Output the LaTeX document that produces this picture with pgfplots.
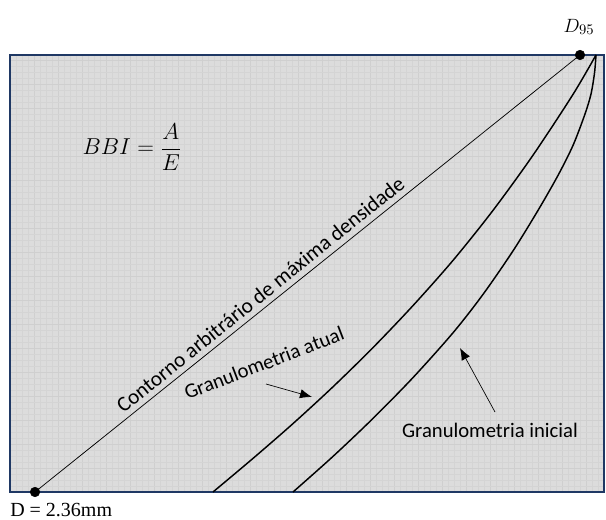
\documentclass[border=0pt]{standalone}
\usepackage{pgfplots}
\pgfplotsset{compat=1.18}
\usetikzlibrary{arrows.meta}
\usepackage{fontspec}
\setmainfont{Carlito}
\newfontfamily\timesfont{Liberation Serif}
\definecolor{bgfill}{HTML}{DCDCDC}
\definecolor{gridmin}{HTML}{D4D4D4}
\definecolor{gridmaj}{HTML}{CFCFCF}
\definecolor{frame}{HTML}{1F3864}

% grading curves (x: sieve size, y: cumulative passing), drawing units
\pgfplotstableread{
x y
203 0
243 33.6
283 68.4
323 105.2
363 144.4
403 186.4
443 231.6
483 281.6
523 336.8
563 397.6
586 437
}\atual
\pgfplotstableread{
x y
283 0
323 35.6
363 73.6
403 114.4
443 159.2
473 197.6
503 241.1
528 281.6
548 316.6
563 346.6
575 378
581 398
584.5 419
586 437
}\inicial
\pgfplotstableread{
x y
25 0
570 437
}\contorno

\begin{document}
\begin{tikzpicture}[x=0.75pt,y=0.75pt]
\useasboundingbox (0,0) rectangle (606,520);
\begin{axis}[
  at={(10,28)}, anchor=south west,
  x=0.75pt, y=0.75pt,
  xmin=0, xmax=594, ymin=0, ymax=437,
  xtick distance=24, ytick distance=24,
  minor tick num=3,
  xticklabels={}, yticklabels={},
  major tick length=0pt, minor tick length=0pt,
  grid=both,
  minor grid style={color=gridmin, line width=0.3pt},
  major grid style={color=gridmaj, line width=0.45pt},
  axis background/.style={fill=bgfill},
  axis line style={frame, line width=1.3pt},
  clip=false,
]
\addplot[black, line width=0.55pt] table {\contorno};
\addplot[black, line width=1.1pt, smooth, tension=0.5] table {\atual};
\addplot[black, line width=1.1pt, smooth, tension=0.5] table {\inicial};
\addplot[only marks, mark=*, mark size=3.6pt, black] table {\contorno};

% arrows pointing to the curves
\draw[-{Latex[length=9pt,width=7pt]}, line width=0.5pt] (axis cs:256,108) -- (axis cs:302,95);
\draw[-{Latex[length=9pt,width=7pt]}, line width=0.5pt] (axis cs:485,80) -- (axis cs:450,144);

\node[rotate=38.8, anchor=base, font=\fontsize{16}{19}\selectfont] at (axis cs:255,192)
  {Contorno arbitrário de máxima densidade};
\node[rotate=21, font=\fontsize{15.5}{18}\selectfont] at (axis cs:254,129)
  {Granulometria atual};
\node[font=\fontsize{15.5}{18}\selectfont] at (axis cs:480,62)
  {Granulometria inicial};
\node[font=\fontsize{18.4}{22}\selectfont] at (axis cs:122,345)
  {$BBI = \displaystyle\frac{A}{E}$};
\node[font=\fontsize{15}{18}\selectfont] at (axis cs:569,465) {$D_{95}$};
\node[anchor=west, inner sep=0pt, font=\fontsize{15}{18}\selectfont\timesfont] at (axis cs:0,-18)
  {D = 2.36mm};
\end{axis}
\end{tikzpicture}
\end{document}
